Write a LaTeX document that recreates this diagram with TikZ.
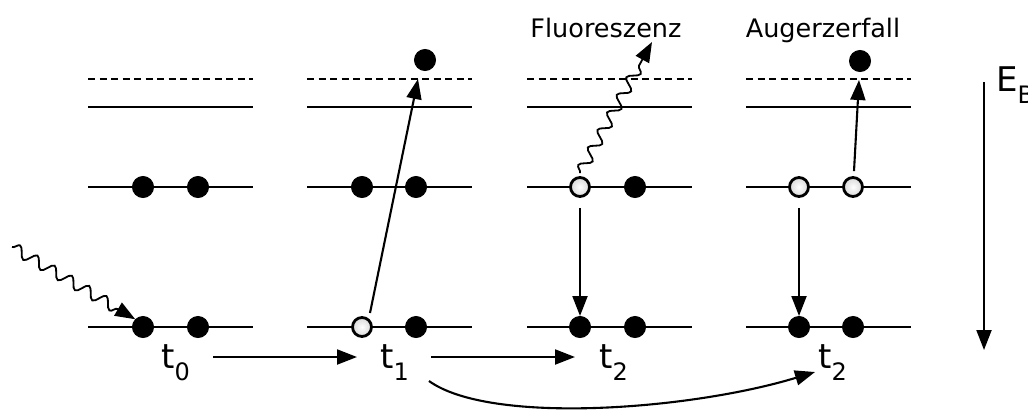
\documentclass[tikz,border=0pt]{standalone}
\usepackage{fontspec}
\setmainfont{DejaVu Sans}
\usetikzlibrary{arrows.meta,decorations.pathmorphing}
\newcommand{\sublabel}[2]{#1\lower12pt\hbox{\fontsize{24}{24}\selectfont #2}}
\begin{document}
\begin{tikzpicture}[x=1pt,y=-1pt,
  level/.style={line width=2.2pt},
  virtual/.style={line width=2.2pt,dash pattern=on 7pt off 4.5pt},
  electron/.style={circle,fill=black,draw=black,line width=1pt,inner sep=0pt,minimum size=21pt},
  hole/.style={circle,draw=black,line width=2.8pt,inner color=white,outer color=gray!30,inner sep=0pt,minimum size=19pt},
  tip/.style={-{Triangle[length=20pt,width=15pt]},line width=2.1pt},
  wave/.style={line width=1.8pt,-{Triangle[length=20pt,width=15pt]},decorate,
    decoration={snake,amplitude=5.5pt,segment length=20pt,post length=18pt}},
  tlabel/.style={font=\fontsize{34}{34}\selectfont,inner sep=0pt,anchor=base west},
  note/.style={font=\fontsize{25.5}{25.5}\selectfont,inner sep=0pt,anchor=base}]
\useasboundingbox (0,0) rectangle (1028,410);

% energy levels for the four time steps
\foreach \xa in {88,307,527,746}{
  \draw[virtual] (\xa,79) -- ++(165,0);
  \draw[level] (\xa,107) -- ++(165,0);
  \draw[level] (\xa,187) -- ++(165,0);
  \draw[level] (\xa,327) -- ++(165,0);
}

% t0: ground state, incoming photon
\node[electron] (a1) at (143,187) {};
\node[electron] (a2) at (198,187) {};
\node[electron] (a3) at (143,327) {};
\node[electron] (a4) at (198,327) {};
\coordinate (ph) at (12,247);
\draw[wave] (ph) -- (a3.north west);

% t1: photoionisation of an inner electron
\node[electron] (b1) at (362,187) {};
\node[electron] (b2) at (416,187) {};
\node[hole] (b3) at (362,327) {};
\node[electron] (b4) at (416,327) {};
\node[electron] (b5) at (425,60) {};
\coordinate (b3out) at (370,313);
\coordinate (b5in) at (418,79);
\draw[tip] (b3out) -- (b5in);

% t2: fluorescence
\node[hole] (c1) at (580,187) {};
\node[electron] (c2) at (635,187) {};
\node[electron] (c3) at (580,327) {};
\node[electron] (c4) at (635,327) {};
\draw[tip] (c1.south) ++(0,10) -- (c3.north);
\coordinate (fl) at (652,42);
\draw[wave] (c1.north) ++(0,-3) -- (fl);
\node[note] (fltext) at (606,37) {Fluoreszenz};

% t2: Auger decay
\node[hole] (d1) at (799,187) {};
\node[hole] (d2) at (853,187) {};
\node[electron] (d3) at (799,327) {};
\node[electron] (d4) at (853,327) {};
\node[electron] (d5) at (860,61) {};
\draw[tip] (d1.south) ++(0,10) -- (d3.north);
\coordinate (d5in) at (859,80);
\draw[tip] (d2.north) ++(1,-5) -- (d5in);
\node[note] (autext) at (823,37) {Augerzerfall};

% time labels and transitions
\node[tlabel] (t0) at (161,368) {\sublabel{t}{0}};
\node[tlabel] (t1) at (380,368) {\sublabel{t}{1}};
\node[tlabel] (t2) at (599,368) {\sublabel{t}{2}};
\node[tlabel] (t3) at (818,368) {\sublabel{t}{2}};
\coordinate (h0) at (213,357);
\coordinate (h1) at (357,357);
\coordinate (h2) at (431,357);
\coordinate (h3) at (575,357);
\draw[tip] (h0) -- (h1);
\draw[tip] (h2) -- (h3);
\coordinate (cs) at (429,381);
\coordinate (ce) at (815,372);
\draw[tip] (cs) .. controls (490,425) and (690,410) .. (ce);

% binding energy axis
\coordinate (e1) at (984,82);
\coordinate (e2) at (984,350);
\draw[tip] (e1) -- (e2);
\node[tlabel] (eb) at (996,91) {\sublabel{E}{B}};
\end{tikzpicture}
\end{document}
